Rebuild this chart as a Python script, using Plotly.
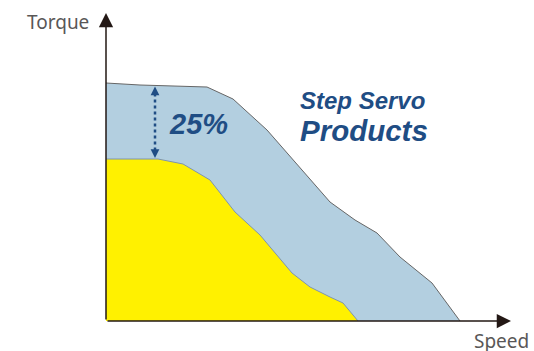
import numpy as np
import plotly.graph_objects as go

# Torque-speed curves (arbitrary units)
servo_speed = [0, 34, 101, 127, 161, 201, 224, 249, 271, 294, 326, 354]
servo_torque = [238, 236, 234, 222, 191, 146, 119, 101, 88, 64, 38, 0]

stepper_speed = [0, 52, 77, 104, 129, 154, 186, 204, 224, 237, 252]
stepper_torque = [162, 162, 157, 141, 109, 86, 48, 34, 24, 18, 0]

gain_label = "25%"
axis_x_label = "Speed"
axis_y_label = "Torque"

TEXT_BLUE = "#1f4d84"
AXIS_COL = "#231815"
LABEL_COL = "#595757"

W, H = 534, 351

fig = go.Figure()

fig.add_trace(go.Scatter(
    x=servo_speed, y=servo_torque, mode="lines", fill="tozeroy",
    fillcolor="#b3cfe0", line=dict(color="#666666", width=1),
    hoverinfo="skip", showlegend=False,
))
fig.add_trace(go.Scatter(
    x=stepper_speed, y=stepper_torque, mode="lines", fill="tozeroy",
    fillcolor="#fff100", line=dict(color="#7f95ad", width=1),
    hoverinfo="skip", showlegend=False,
))

# dotted double arrow showing the gap between the curves
gx = 49
top = float(np.interp(gx, servo_speed, servo_torque))
bot = float(np.interp(gx, stepper_speed, stepper_torque))
fig.add_trace(go.Scatter(
    x=[gx, gx], y=[top - 8, bot + 8], mode="lines",
    line=dict(color=TEXT_BLUE, width=2.5, dash="dot"),
    hoverinfo="skip", showlegend=False,
))
for tip, tail in [(top - 1, top - 12), (bot + 1, bot + 12)]:
    fig.add_annotation(x=gx, y=tip, ax=gx, ay=tail, axref="x", ayref="y",
                       xref="x", yref="y", text="", showarrow=True,
                       arrowhead=2, arrowsize=1.1, arrowwidth=1.6,
                       arrowcolor=TEXT_BLUE)

# axes with arrow heads
fig.add_annotation(x=405, y=0, ax=0, ay=0, axref="x", ayref="y", text="",
                   showarrow=True, arrowhead=2, arrowsize=1.9, arrowwidth=1.5,
                   arrowcolor=AXIS_COL)
fig.add_annotation(x=0, y=308, ax=0, ay=0, axref="x", ayref="y", text="",
                   showarrow=True, arrowhead=2, arrowsize=1.9, arrowwidth=1.5,
                   arrowcolor=AXIS_COL)

fig.add_annotation(x=-15, y=299, text=axis_y_label, showarrow=False,
                   xanchor="right", yanchor="middle",
                   font=dict(family="Noto Sans", size=19, color=LABEL_COL))
fig.add_annotation(x=425, y=-20, text=axis_x_label, showarrow=False,
                   xanchor="right", yanchor="middle", height=20,
                   font=dict(family="Noto Sans", size=19, color=LABEL_COL))

fig.add_annotation(x=61, y=197, text=f"<b><i>{gain_label}</i></b>",
                   showarrow=False, xanchor="left", yanchor="middle",
                   font=dict(family="Liberation Sans", size=29, color=TEXT_BLUE))
fig.add_annotation(x=192, y=221, text="<b><i>Step Servo</i></b>",
                   showarrow=False, xanchor="left", yanchor="middle",
                   font=dict(family="Liberation Sans", size=24, color=TEXT_BLUE))
fig.add_annotation(x=192, y=191, text="<b><i>Products</i></b>",
                   showarrow=False, xanchor="left", yanchor="middle",
                   font=dict(family="Liberation Sans", size=29.5, color=TEXT_BLUE))

fig.update_layout(
    width=W, height=H,
    margin=dict(l=0, r=0, t=0, b=0, autoexpand=False),
    paper_bgcolor="white", plot_bgcolor="white",
    xaxis=dict(range=[-106, W - 106], visible=False, fixedrange=True),
    yaxis=dict(range=[321 - H, 321], visible=False, fixedrange=True),
)

# drop the default body margin so the figure sits at the page corner
fig.write_html("out.html",
               config={"displayModeBar": False},
               post_script="document.body.style.margin='0';"
                           "document.body.style.overflow='hidden';")
